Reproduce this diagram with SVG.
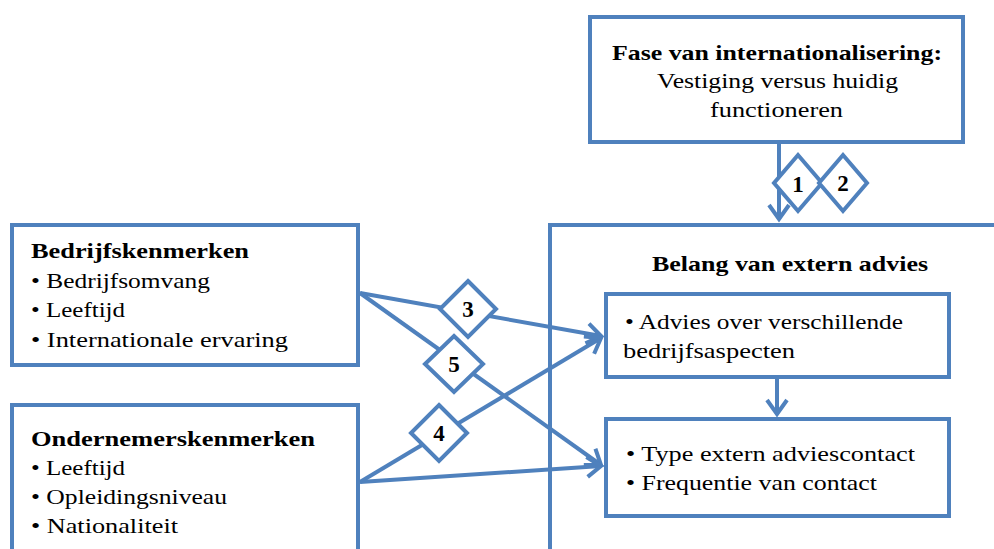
<svg xmlns="http://www.w3.org/2000/svg" width="994" height="549" viewBox="0 0 994 549">
<style>
.box{fill:#fff;stroke:#4F81BD;stroke-width:4}
.ln{fill:none;stroke:#4F81BD;stroke-width:4}
.dm{fill:#fff;stroke:#4F81BD;stroke-width:4;stroke-linejoin:miter}
text{font-family:"Liberation Serif","DejaVu Serif",serif;font-size:22px;fill:#000}
.b{font-weight:bold}
.n{font-weight:bold;font-size:23px;text-anchor:middle}
</style>
<defs>
<marker id="arr" markerUnits="userSpaceOnUse" markerWidth="30" markerHeight="30" viewBox="-20 -15 30 30" refX="0" refY="0" orient="auto" overflow="visible">
<path d="M-14,-10 L0,0 L-14,10" fill="none" stroke="#4F81BD" stroke-width="4"/>
</marker>
</defs>
<rect width="994" height="549" fill="#fff"/>
<g id="fase">
<rect class="box" x="590" y="17" width="373" height="125"/>
<text class="b" x="612" y="60" textLength="330" lengthAdjust="spacingAndGlyphs">Fase van internationalisering:</text>
<text x="657" y="88" textLength="241" lengthAdjust="spacingAndGlyphs">Vestiging versus huidig</text>
<text x="710" y="117" textLength="133" lengthAdjust="spacingAndGlyphs">functioneren</text>
</g>
<g id="belang">
<rect class="box" x="550" y="225" width="470" height="340"/>
<text class="b" x="652" y="271" textLength="276" lengthAdjust="spacingAndGlyphs">Belang van extern advies</text>
</g>
<g id="advies">
<rect class="box" x="606" y="294" width="343" height="83"/>
<text x="625" y="329" textLength="278" lengthAdjust="spacingAndGlyphs">• Advies over verschillende</text>
<text x="623" y="358" textLength="172" lengthAdjust="spacingAndGlyphs">bedrijfsaspecten</text>
</g>
<g id="contact">
<rect class="box" x="606" y="419" width="343" height="97"/>
<text x="626" y="461" textLength="289" lengthAdjust="spacingAndGlyphs">• Type extern adviescontact</text>
<text x="626" y="490" textLength="251" lengthAdjust="spacingAndGlyphs">• Frequentie van contact</text>
</g>
<g id="bedrijf">
<rect class="box" x="12" y="225" width="346" height="140"/>
<text class="b" x="31" y="258" textLength="218" lengthAdjust="spacingAndGlyphs">Bedrijfskenmerken</text>
<text x="31" y="288" textLength="179" lengthAdjust="spacingAndGlyphs">• Bedrijfsomvang</text>
<text x="31" y="317" textLength="94" lengthAdjust="spacingAndGlyphs">• Leeftijd</text>
<text x="31" y="347" textLength="257" lengthAdjust="spacingAndGlyphs">• Internationale ervaring</text>
</g>
<g id="ondernemer">
<rect class="box" x="12" y="405" width="346" height="170"/>
<text class="b" x="31" y="446" textLength="284" lengthAdjust="spacingAndGlyphs">Ondernemerskenmerken</text>
<text x="31" y="475" textLength="94" lengthAdjust="spacingAndGlyphs">• Leeftijd</text>
<text x="31" y="504" textLength="196" lengthAdjust="spacingAndGlyphs">• Opleidingsniveau</text>
<text x="31" y="533" textLength="147" lengthAdjust="spacingAndGlyphs">• Nationaliteit</text>
</g>
<g id="connectors">
<line class="ln" x1="779" y1="142" x2="779" y2="219" marker-end="url(#arr)"/>
<line class="ln" x1="777" y1="377" x2="777" y2="414" marker-end="url(#arr)"/>
<line class="ln" x1="360" y1="293" x2="601" y2="336" marker-end="url(#arr)"/>
<line class="ln" x1="360" y1="293" x2="601" y2="465" marker-end="url(#arr)"/>
<line class="ln" x1="360" y1="482" x2="601" y2="338" marker-end="url(#arr)"/>
<line class="ln" x1="360" y1="482" x2="601" y2="466" marker-end="url(#arr)"/>
<polygon class="dm" points="798,155 822,183 798,211 774,183"/>
<text class="n" x="798" y="192">1</text>
<polygon class="dm" points="843,155 867,183 843,211 819,183"/>
<text class="n" x="843" y="191">2</text>
<polygon class="dm" points="468,281 496,309 468,337 440,309"/>
<text class="n" x="468" y="317">3</text>
<polygon class="dm" points="454,336 483,364 454,392 425,364"/>
<text class="n" x="454" y="372">5</text>
<polygon class="dm" points="439,405 467,433 439,461 411,433"/>
<text class="n" x="439" y="441">4</text>
</g>
</svg>
